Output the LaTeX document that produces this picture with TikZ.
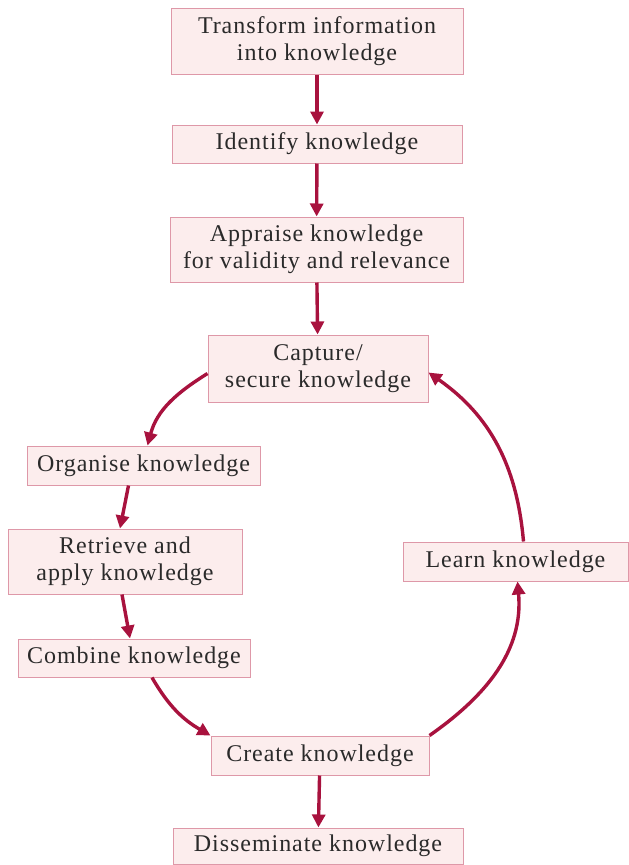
\documentclass[tikz,border=0pt]{standalone}
\usepackage{fontspec}
\setmainfont{Liberation Serif}[LetterSpace=4]
\usetikzlibrary{arrows.meta,calc}
\definecolor{boxfill}{HTML}{FCEDED}
\definecolor{boxline}{HTML}{DE98A8}
\definecolor{arrowred}{HTML}{A8123E}
\definecolor{textgray}{HTML}{2A2A2A}
\tikzset{
  stage/.style={draw=boxline, fill=boxfill, line width=1pt, text=textgray,
    align=center, inner sep=0pt, font=\fontsize{24}{27}\selectfont},
  flow/.style={draw=arrowred, line width=3.4pt,
    -{Triangle[length=13pt,width=13pt]}},
}
\begin{document}
\begin{tikzpicture}[x=1pt,y=-1pt]
\useasboundingbox (0,0) rectangle (629,865);

\node[stage, minimum width=292, minimum height=66] (transform) at (317,41)
  {Transform information\\into knowledge};
\node[stage, minimum width=290, minimum height=38] (identify) at (317,144)
  {Identify knowledge};
\node[stage, minimum width=293, minimum height=65] (appraise) at (316.5,249.5)
  {Appraise knowledge\\for validity and relevance};
\node[stage, minimum width=220, minimum height=67] (capture) at (318,368.5)
  {Capture/\\secure knowledge};
\node[stage, minimum width=233, minimum height=39] (organise) at (143.5,465.5)
  {Organise knowledge};
\node[stage, minimum width=234, minimum height=65] (retrieve) at (125,561.5)
  {Retrieve and\\apply knowledge};
\node[stage, minimum width=232, minimum height=38] (combine) at (134,658)
  {Combine knowledge};
\node[stage, minimum width=218, minimum height=39] (create) at (320,755.5)
  {Create knowledge};
\node[stage, minimum width=290, minimum height=36] (disseminate) at (318,846)
  {Disseminate knowledge};
\node[stage, minimum width=225, minimum height=39] (learn) at (515.5,561.5)
  {Learn knowledge};

% linear chain at the top
\draw[flow] (transform) -- (identify);
\draw[flow] (identify) -- (appraise);
\draw[flow] (appraise) -- (capture);

% knowledge cycle
\draw[flow] ($(capture.west)+(0,5)$) to[out=212,in=75] ($(organise.north)+(4,0)$);
\draw[flow] ($(organise.south)+(-15,0)$) -- ($(retrieve.north)+(-5,0)$);
\draw[flow] ($(retrieve.south)+(-3,0)$) -- ($(combine.north)+(-4,0)$);
\draw[flow] ($(combine.south)+(18,0)$) to[out=-60,in=150] (create.north west);
\draw[flow] (create.north east) to[out=35,in=-85] ($(learn.south)+(2,0)$);
\draw[flow] ($(learn.north)+(8,0)$) to[out=95,in=-35] ($(capture.east)+(0,4)$);

% final output
\draw[flow] (create) -- (disseminate);
\end{tikzpicture}
\end{document}
